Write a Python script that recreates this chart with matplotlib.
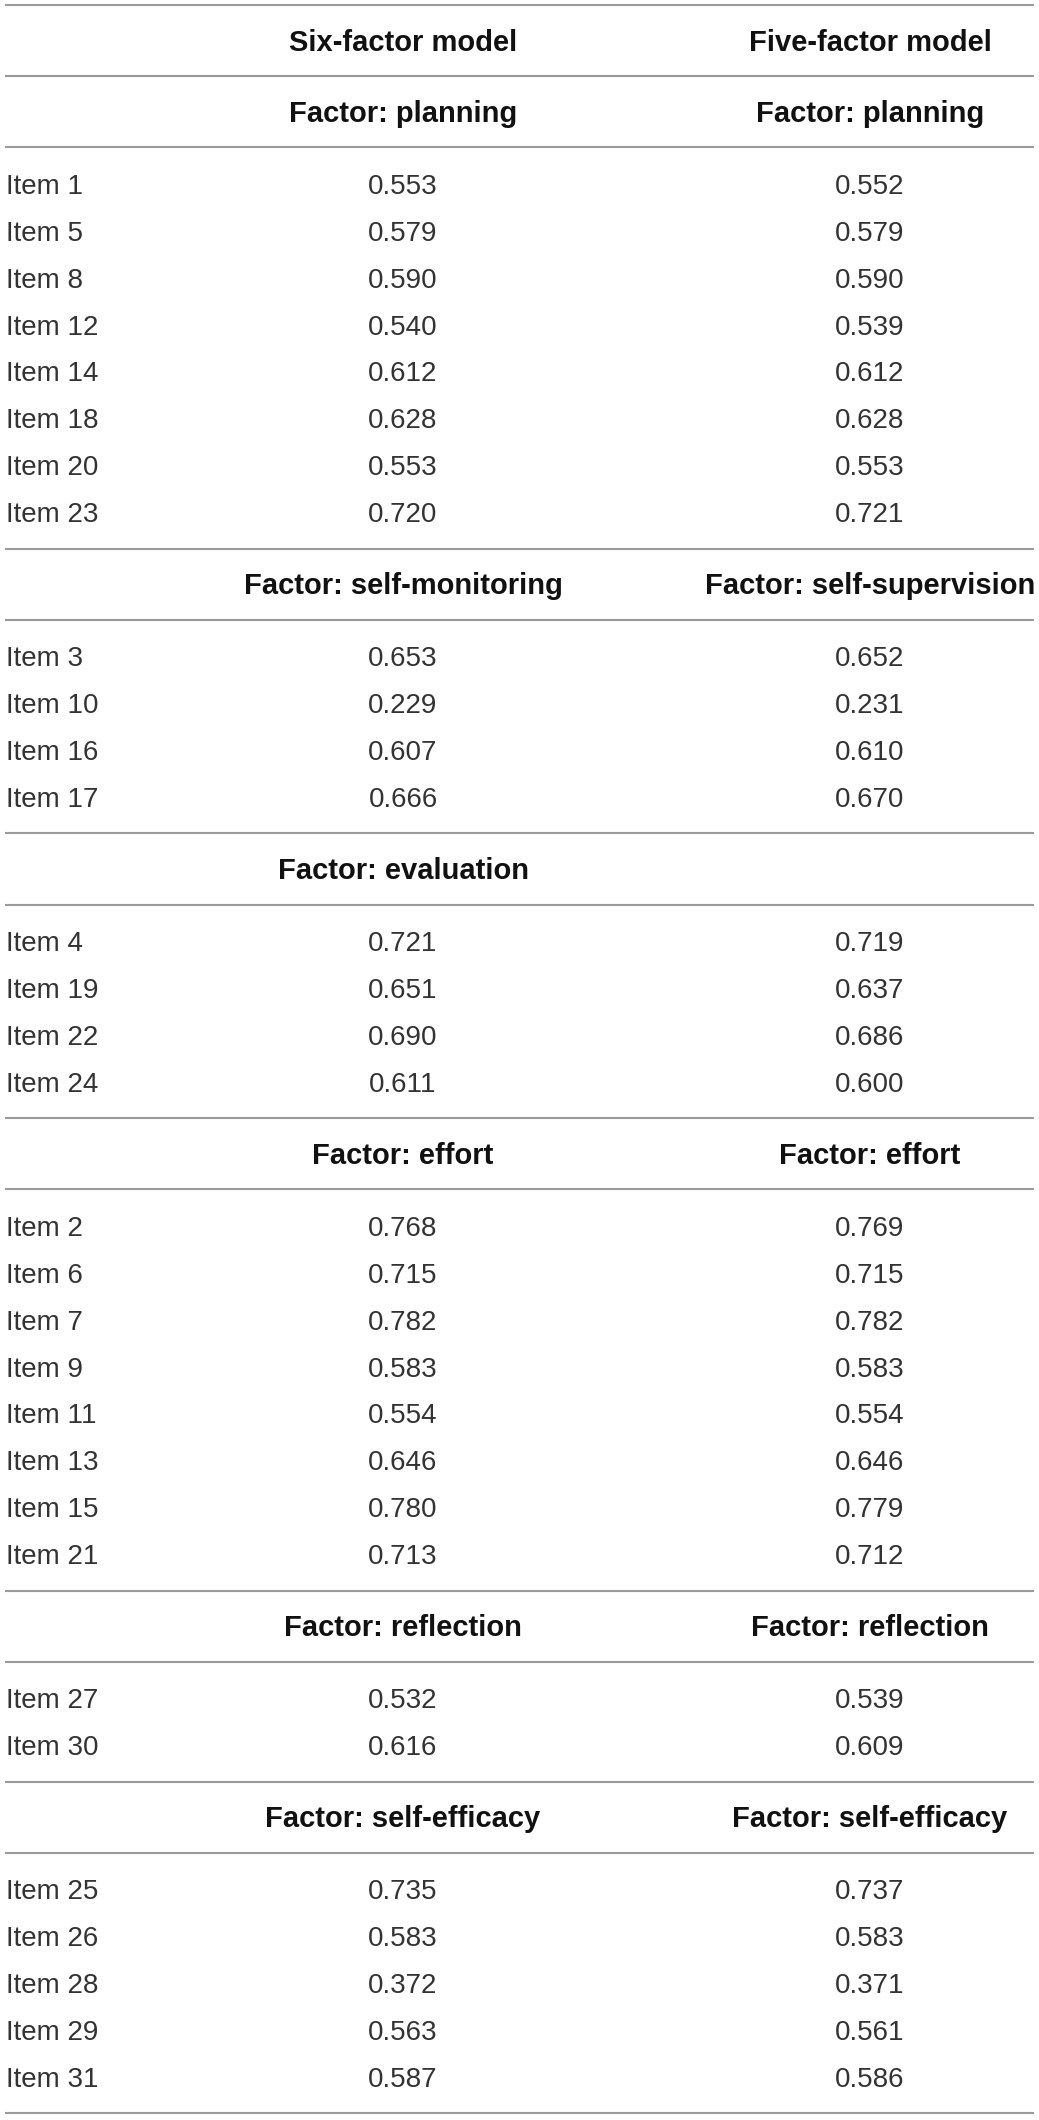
import matplotlib
matplotlib.use("Agg")
import matplotlib.pyplot as plt

# column headers
model_names = ["Six-factor model", "Five-factor model"]

# factor names per model (five-factor model merges evaluation into self-supervision)
six_factors = ["planning", "self-monitoring", "evaluation", "effort", "reflection", "self-efficacy"]
five_factors = ["planning", "self-supervision", "", "effort", "reflection", "self-efficacy"]

# items in each factor block
items_planning = [1, 5, 8, 12, 14, 18, 20, 23]
items_monitoring = [3, 10, 16, 17]
items_evaluation = [4, 19, 22, 24]
items_effort = [2, 6, 7, 9, 11, 13, 15, 21]
items_reflection = [27, 30]
items_efficacy = [25, 26, 28, 29, 31]

# loadings, six-factor model
six_planning = [0.553, 0.579, 0.590, 0.540, 0.612, 0.628, 0.553, 0.720]
six_monitoring = [0.653, 0.229, 0.607, 0.666]
six_evaluation = [0.721, 0.651, 0.690, 0.611]
six_effort = [0.768, 0.715, 0.782, 0.583, 0.554, 0.646, 0.780, 0.713]
six_reflection = [0.532, 0.616]
six_efficacy = [0.735, 0.583, 0.372, 0.563, 0.587]

# loadings, five-factor model
five_planning = [0.552, 0.579, 0.590, 0.539, 0.612, 0.628, 0.553, 0.721]
five_monitoring = [0.652, 0.231, 0.610, 0.670]
five_evaluation = [0.719, 0.637, 0.686, 0.600]
five_effort = [0.769, 0.715, 0.782, 0.583, 0.554, 0.646, 0.779, 0.712]
five_reflection = [0.539, 0.609]
five_efficacy = [0.737, 0.583, 0.371, 0.561, 0.586]

item_blocks = [items_planning, items_monitoring, items_evaluation,
               items_effort, items_reflection, items_efficacy]
six_blocks = [six_planning, six_monitoring, six_evaluation,
              six_effort, six_reflection, six_efficacy]
five_blocks = [five_planning, five_monitoring, five_evaluation,
               five_effort, five_reflection, five_efficacy]

# layout in pixels
W, H = 1039, 2120
x_label = 6
x_col = [403, 870]
head_h = 71.2
row_h = 46.9
pad = 26
line_color = "#9b9b9b"
body_font = dict(family=["Liberation Sans", "DejaVu Sans"], fontweight="normal",
                 fontsize=20, color="#333333")
bold_font = dict(family=["Liberation Sans", "DejaVu Sans"], fontweight="bold",
                 fontsize=21, color="#111111")

fig = plt.figure(figsize=(W / 100, H / 100), dpi=100)
ax = fig.add_axes([0, 0, 1, 1])
ax.set_xlim(0, W)
ax.set_ylim(H, 0)
ax.axis("off")


def hline(y):
    ax.plot([5, 1034], [y, y], color=line_color, lw=1.5, solid_capstyle="butt")


y = 5
hline(y)
# model header row
yc = y + head_h / 2
for xc, name in zip(x_col, model_names):
    ax.text(xc, yc + 10, name, ha="center", va="baseline", **bold_font)
y += head_h
hline(y)

for items, f6, f5, v6, v5 in zip(item_blocks, six_factors, five_factors, six_blocks, five_blocks):
    yc = y + head_h / 2
    ax.text(x_col[0], yc + 10, "Factor: " + f6, ha="center", va="baseline", **bold_font)
    if f5:
        ax.text(x_col[1], yc + 10, "Factor: " + f5, ha="center", va="baseline", **bold_font)
    y += head_h
    hline(y)
    yr = y + pad / 2 + row_h / 2
    for it, a, b in zip(items, v6, v5):
        ax.text(x_label, yr + 10, "Item %d" % it, ha="left", va="baseline", **body_font)
        ax.text(x_col[0], yr + 10, "%.3f" % a, ha="center", va="baseline", **body_font)
        ax.text(x_col[1], yr + 10, "%.3f" % b, ha="center", va="baseline", **body_font)
        yr += row_h
    y += len(items) * row_h + pad
    hline(y)

fig.savefig("out.png", dpi=100, facecolor="white")
